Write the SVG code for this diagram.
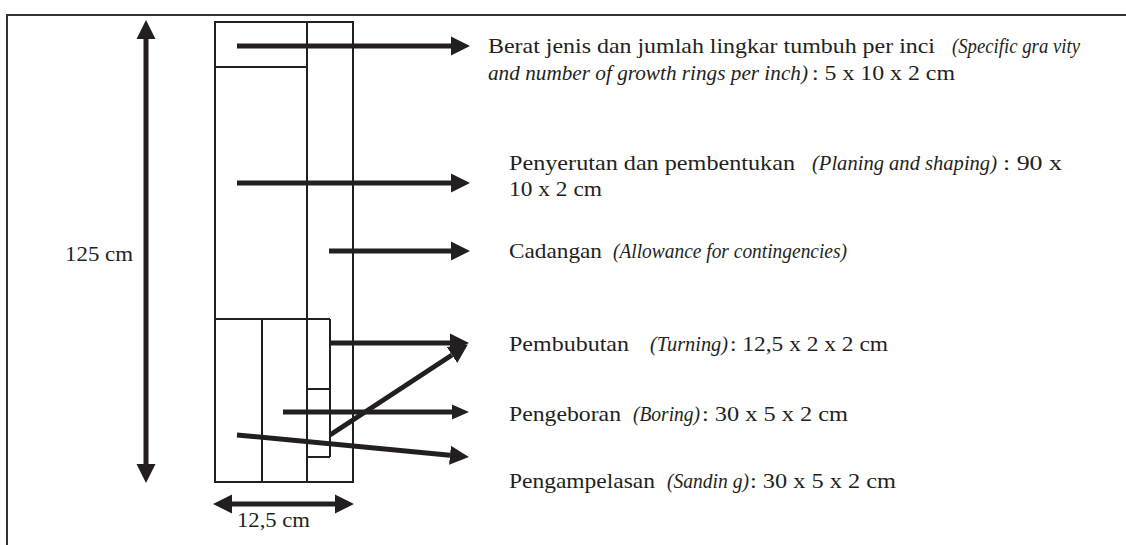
<svg xmlns="http://www.w3.org/2000/svg" width="1126" height="545" viewBox="0 0 1126 545">
<style>
  .t { font-family: "Liberation Serif", "Times New Roman", serif; font-size: 21px; fill: #231f20; }
  .i { font-style: italic; }
  .ln { stroke: #231f20; stroke-width: 2; fill: none; }
  .ar { stroke: #231f20; stroke-width: 5; fill: none; }
  .frame { stroke: #333333; stroke-width: 2; fill: none; }
</style>
<defs>
  <marker id="ah" markerUnits="userSpaceOnUse" markerWidth="20" markerHeight="20" refX="0" refY="9.5" orient="auto-start-reverse" viewBox="0 0 20 19">
    <path d="M0,0 L19,9.5 L0,19 z" fill="#231f20"/>
  </marker>
  <marker id="ahs" markerUnits="userSpaceOnUse" markerWidth="18" markerHeight="16" refX="0" refY="7.5" orient="auto" viewBox="0 0 18 15">
    <path d="M0,0 L17,7.5 L0,15 z" fill="#231f20"/>
  </marker>
</defs>
<rect width="1126" height="545" fill="#ffffff"/>
<g id="frame">
  <path class="frame" d="M7,545 L7,15 L1126,15"/>
</g>
<g id="board">
  <rect class="ln" x="215" y="22" width="138" height="460"/>
  <line class="ln" x1="307" y1="22" x2="307" y2="482"/>
  <line class="ln" x1="215" y1="67" x2="307" y2="67"/>
  <line class="ln" x1="215" y1="319" x2="330" y2="319"/>
  <line class="ln" x1="262" y1="319" x2="262" y2="482"/>
  <line class="ln" x1="330" y1="319" x2="330" y2="457"/>
  <line class="ln" x1="307" y1="389" x2="330" y2="389"/>
  <line class="ln" x1="307" y1="457" x2="330" y2="457"/>
</g>
<g id="connectors">
  <line class="ar" x1="146" y1="39" x2="146" y2="464" marker-start="url(#ah)" marker-end="url(#ah)"/>
  <line class="ar" x1="232" y1="504" x2="335" y2="504" marker-start="url(#ah)" marker-end="url(#ah)"/>
  <line class="ar" x1="237" y1="46" x2="451" y2="46" marker-end="url(#ah)"/>
  <line class="ar" x1="237" y1="183" x2="451" y2="183" marker-end="url(#ah)"/>
  <line class="ar" x1="329" y1="251" x2="451" y2="251" marker-end="url(#ah)"/>
  <line class="ar" x1="330" y1="343" x2="450" y2="343" marker-end="url(#ah)"/>
  <line class="ar" x1="330" y1="435" x2="452" y2="355" marker-end="url(#ah)"/>
  <line class="ar" x1="283" y1="412" x2="452" y2="412" marker-end="url(#ahs)"/>
  <line class="ar" x1="237" y1="435" x2="450" y2="455.2" marker-end="url(#ah)"/>
</g>
<g id="dim-height">
  <text class="t" x="65" y="261" textLength="68" lengthAdjust="spacingAndGlyphs">125 cm</text>
</g>
<g id="dim-width">
  <text class="t" x="237" y="527" textLength="73" lengthAdjust="spacingAndGlyphs">12,5 cm</text>
</g>
<g id="label-specific-gravity">
  <text class="t" x="488" y="53" textLength="447" lengthAdjust="spacingAndGlyphs">Berat jenis  dan jumlah lingkar tumbuh per inci</text>
  <text class="t i" x="952" y="53" textLength="128" lengthAdjust="spacingAndGlyphs">(Specific gra vity</text>
  <text class="t i" x="488" y="80" textLength="320" lengthAdjust="spacingAndGlyphs">and number of  growth rings  per inch)</text>
  <text class="t" x="812" y="80" textLength="143" lengthAdjust="spacingAndGlyphs">:  5 x 10 x 2 cm</text>
</g>
<g id="label-planing">
  <text class="t" x="509" y="170" textLength="286" lengthAdjust="spacingAndGlyphs">Penyerutan dan pembentukan</text>
  <text class="t i" x="812" y="170" textLength="185" lengthAdjust="spacingAndGlyphs">(Planing and  shaping)</text>
  <text class="t" x="1003" y="170" textLength="59" lengthAdjust="spacingAndGlyphs">:  90 x</text>
  <text class="t" x="509" y="196" textLength="93" lengthAdjust="spacingAndGlyphs">10 x 2 cm</text>
</g>
<g id="label-allowance">
  <text class="t" x="509" y="258" textLength="93" lengthAdjust="spacingAndGlyphs">Cadangan</text>
  <text class="t i" x="613" y="258" textLength="234" lengthAdjust="spacingAndGlyphs">(Allowance for contingencies)</text>
</g>
<g id="label-turning">
  <text class="t" x="509" y="351" textLength="120" lengthAdjust="spacingAndGlyphs">Pembubutan</text>
  <text class="t i" x="650" y="351" textLength="78" lengthAdjust="spacingAndGlyphs">(Turning)</text>
  <text class="t" x="730" y="351" textLength="158" lengthAdjust="spacingAndGlyphs">: 12,5 x 2 x 2 cm</text>
</g>
<g id="label-boring">
  <text class="t" x="509" y="421" textLength="112" lengthAdjust="spacingAndGlyphs">Pengeboran</text>
  <text class="t i" x="633" y="421" textLength="67" lengthAdjust="spacingAndGlyphs">(Boring)</text>
  <text class="t" x="702" y="421" textLength="146" lengthAdjust="spacingAndGlyphs">:  30 x 5 x 2 cm</text>
</g>
<g id="label-sanding">
  <text class="t" x="509" y="488" textLength="146" lengthAdjust="spacingAndGlyphs">Pengampelasan</text>
  <text class="t i" x="667" y="488" textLength="82" lengthAdjust="spacingAndGlyphs">(Sandin g)</text>
  <text class="t" x="750" y="488" textLength="146" lengthAdjust="spacingAndGlyphs">:  30 x 5 x 2 cm</text>
</g>
</svg>
